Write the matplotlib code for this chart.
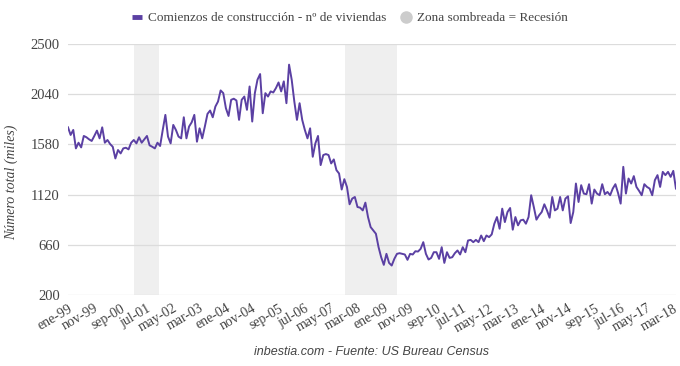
import numpy as np
import matplotlib
matplotlib.use('Agg')
from matplotlib import pyplot as plt
from matplotlib.lines import Line2D

# monthly housing starts, thousands, ene-99 .. abr-18
starts = [
    1736, 1666, 1712, 1543, 1595, 1552, 1657, 1645, 1626, 1611, 1657, 1706,
    1635, 1736, 1595, 1620, 1583, 1558, 1451, 1528, 1497, 1543, 1549, 1534,
    1595, 1620, 1589, 1645, 1595, 1626, 1657, 1571, 1558, 1543, 1595, 1565,
    1712, 1850, 1651, 1589, 1758, 1712, 1651, 1635, 1828, 1635, 1743, 1782,
    1850, 1604, 1727, 1635, 1743, 1859, 1890, 1828, 1926, 1972, 2074, 2049,
    1911, 1840, 1988, 1998, 1982, 1804, 1988, 2018, 1896, 2110, 1789, 2049,
    2172, 2224, 1865, 2049, 2018, 2065, 2055, 2095, 2147, 2065, 2157, 1957,
    2310, 2172, 1972, 1804, 1957, 1804, 1712, 1635, 1727, 1466, 1589, 1657,
    1390, 1482, 1491, 1482, 1405, 1442, 1344, 1313, 1166, 1261, 1190, 1031,
    1083, 1098, 1006, 1000, 975, 1046, 914, 822, 792, 761, 639, 546,
    476, 577, 494, 470, 531, 577, 583, 577, 571, 522, 577, 571,
    601, 598, 623, 684, 577, 525, 540, 592, 592, 531, 638, 494,
    592, 540, 546, 583, 608, 571, 638, 592, 699, 705, 684, 705,
    684, 745, 693, 745, 730, 755, 853, 914, 807, 991, 868, 960,
    997, 798, 914, 838, 884, 890, 853, 914, 1114, 1006, 890, 930,
    960, 1031, 975, 908, 1098, 975, 991, 1098, 975, 1083, 1104, 859,
    960, 1221, 1052, 1206, 1129, 1123, 1215, 1037, 1166, 1129, 1114, 1215,
    1123, 1144, 1114, 1175, 1215, 1135, 1037, 1374, 1129, 1267, 1221, 1289,
    1190, 1154, 1114, 1215, 1190, 1175, 1114, 1252, 1298, 1190, 1328, 1298,
    1328, 1282, 1337, 1175,
]
start_year = 1999
meses = ['ene', 'feb', 'mar', 'abr', 'may', 'jun',
         'jul', 'ago', 'sep', 'oct', 'nov', 'dic']
# recessions as month offsets from ene-99
recesiones = [(25.1, 34.7), (105.2, 124.9)]
yticks = [200, 660, 1120, 1580, 2040, 2500]

n = len(starts)
x = np.arange(n)
labels = ['%s-%02d' % (meses[i % 12], (start_year + i // 12) % 100) for i in range(n)]

line_color = '#5b40a3'
text_color = '#444444'
serif = ['Liberation Serif', 'DejaVu Serif']
sans = ['Liberation Sans', 'DejaVu Sans']

fig = plt.figure(figsize=(6.8, 3.66), dpi=100)
ax = fig.add_axes([0.1, 0.194, 0.894, 0.686])

for a, b in recesiones:
    ax.axvspan(a, b, color='#efefef', lw=0, zorder=0)

ax.plot(x, starts, color=line_color, lw=1.4, zorder=3)

ax.set_xlim(0, n - 1)
ax.set_ylim(200, 2500)
ax.set_yticks(yticks)
ax.yaxis.grid(True, color='#dcdcdc', lw=0.9, zorder=1)
ax.set_axisbelow(True)
for s in ax.spines.values():
    s.set_visible(False)
ax.tick_params(length=0, colors=text_color)
ax.tick_params(axis='y', pad=6, labelsize=10.5)
ax.tick_params(axis='x', pad=5, labelsize=10)

tick_idx = list(range(0, n, 10))
ax.set_xticks(tick_idx)
ax.set_xticklabels([labels[i] for i in tick_idx], rotation=30, ha='right',
                   rotation_mode='anchor')
for t in ax.get_xticklabels() + ax.get_yticklabels():
    t.set_family(serif)

ax.set_ylabel('Número total (miles)', family=serif, style='italic',
              fontsize=10, color=text_color)
ax.yaxis.set_label_coords(-0.082, 0.45)

handles = [
    Line2D([], [], color=line_color, lw=3.5, solid_capstyle='butt'),
    Line2D([], [], marker='o', ls='none', color='#cccccc', markersize=8),
]
fig.legend(handles, ['Comienzos de construcción - nº de viviendas',
                     'Zona sombreada = Recesión'],
           loc='center', bbox_to_anchor=(0.515, 0.95), ncol=2, frameon=False,
           handlelength=0.7, handletextpad=0.5, columnspacing=1.1,
           prop={'family': serif, 'size': 9.5}, labelcolor=text_color)

fig.text(0.547, 0.038, 'inbestia.com - Fuente: US Bureau Census', ha='center',
         va='center', family=sans, style='italic', fontsize=9,
         color=text_color)

fig.savefig('out.png', dpi=100)
